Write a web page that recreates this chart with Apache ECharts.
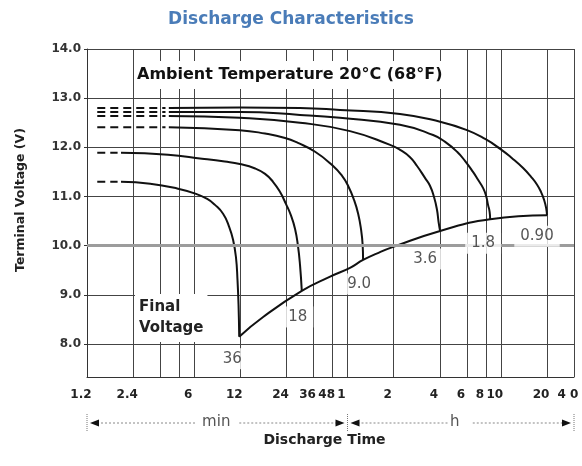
<!DOCTYPE html>
<html><head><meta charset="utf-8">
<script src="https://cdn.jsdelivr.net/npm/echarts@6/dist/echarts.min.js"></script>
<style>html,body{margin:0;padding:0;background:#fff}#c{width:582px;height:466px}</style>
</head><body><div id="c"></div>
<script>
// ---- axis ticks (discharge time in minutes, log scale) ----
const xGridMinutes = [1.2, 2.4, 3.6, 4.8, 6, 12, 24, 36, 48, 60, 120, 240, 360, 480, 600, 1200, 1800];
const xLabelMinutes = [1.2, 2.4, 6, 12, 24, 36, 48, 60, 120, 240, 360, 480, 600, 1200, 1800];
const xLabelText = ['1.2', '2.4', '6', '12', '24', '36', '48', '1', '2', '4', '6', '8', '10', '20', '4 0'];
const yTicks = [8, 9, 10, 11, 12, 13, 14];

// ---- discharge currents (A) ----
const currentNames = ['0.90', '1.8', '3.6', '9.0', '18', '36'];

// ---- dashed lead-in segments [minutes, volts] ----
const leadIn_0_90 = [[1.4, 12.80], [3.9, 12.80]];
const leadIn_1_8 = [[1.4, 12.72], [3.9, 12.72]];
const leadIn_3_6 = [[1.4, 12.64], [3.9, 12.64]];
const leadIn_9_0 = [[1.4, 12.41], [3.9, 12.41]];
const leadIn_18 = [[1.4, 11.89], [1.9, 11.89]];
const leadIn_36 = [[1.4, 11.30], [1.9, 11.30]];

// ---- discharge curves [minutes, volts] ----
const curve_0_90 = [[4.1, 12.80], [11.9, 12.81], [29.4, 12.80], [53.6, 12.76], [132, 12.68], [241, 12.52], [361, 12.35], [474, 12.17], [594, 11.97], [710, 11.78], [838, 11.58], [945, 11.40], [1034, 11.24], [1098, 11.09], [1149, 10.93], [1184, 10.77], [1200, 10.62]];
const curve_1_8 = [[4.1, 12.72], [11.9, 12.72], [29.4, 12.66], [53.6, 12.60], [132, 12.46], [217, 12.25], [260, 12.11], [311, 11.91], [351, 11.72], [395, 11.50], [426, 11.34], [460, 11.17], [481, 11.01], [495, 10.83], [507, 10.69], [511, 10.54]];
const curve_3_6 = [[4.1, 12.64], [11.9, 12.60], [29.4, 12.50], [62.3, 12.33], [113.7, 12.05], [132, 11.95], [153.5, 11.80], [170.5, 11.62], [192, 11.38], [207, 11.22], [220, 10.99], [230, 10.73], [235.6, 10.48], [241, 10.30]];
const curve_9_0 = [[4.1, 12.41], [11.9, 12.35], [17.4, 12.28], [23.5, 12.19], [28.5, 12.09], [36.9, 11.91], [47.6, 11.64], [55.3, 11.42], [60.5, 11.22], [66.2, 10.93], [70.4, 10.65], [73.6, 10.32], [75.3, 10.02], [75.8, 9.71]];
const curve_18 = [[2.0, 11.89], [4.05, 11.85], [6.75, 11.77], [9.5, 11.71], [11.9, 11.66], [15, 11.57], [17.4, 11.46], [19.6, 11.30], [21.8, 11.09], [23.8, 10.85], [25.7, 10.61], [27.3, 10.34], [28.5, 10.00], [29.4, 9.61], [30.2, 9.08]];
const curve_36 = [[2.0, 11.30], [3.1, 11.26], [4.7, 11.16], [6.1, 11.06], [7.3, 10.95], [8.2, 10.83], [9.26, 10.65], [10.1, 10.40], [10.76, 10.12], [11.25, 9.75], [11.5, 9.30], [11.68, 8.80], [11.8, 8.15]];

// ---- final voltage line [minutes, volts] ----
const finalVoltage = [[11.8, 8.15], [16.9, 8.55], [30.2, 9.08], [46.2, 9.37], [62.3, 9.55], [75.8, 9.71], [97.8, 9.87], [118, 9.97], [241, 10.30], [511, 10.54], [1200, 10.62]];

const leadIns = [leadIn_0_90, leadIn_1_8, leadIn_3_6, leadIn_9_0, leadIn_18, leadIn_36];
const curves = [curve_0_90, curve_1_8, curve_3_6, curve_9_0, curve_18, curve_36];
// label offsets in pixels (style only)
const labelOffsets = [[-10, 21], [-7, 24], [-15, 28], [-4, 24], [-4, 26], [-7, 22]];

const FONT = 'DejaVu Sans, sans-serif';
const INK = '#111';

function xLabel(v) {
  const i = xLabelMinutes.findIndex(m => Math.abs(m - v) / m < 1e-6);
  return i >= 0 ? xLabelText[i] : '';
}

const series = [];
// thick grey reference line at 10.0 V (drawn beneath the curves)
series.push({
  type: 'line', data: [], silent: true, z: 1,
  markLine: { silent: true, symbol: 'none', label: { show: false },
    lineStyle: { color: '#9c9c9c', width: 3, type: 'solid' }, data: [{ yAxis: 10 }] }
});
curves.forEach((c, i) => {
  series.push({
    name: currentNames[i] + ' lead', type: 'line', data: leadIns[i], showSymbol: false, z: 3,
    lineStyle: { color: INK, width: 2, type: [8, 5] }, silent: true
  });
  series.push({
    name: currentNames[i], type: 'line', data: c, showSymbol: false, z: 3,
    smooth: 0.5,
    lineStyle: { color: INK, width: 2 }, silent: true
  });
});
series.push({
  name: 'Final Voltage', type: 'line', data: finalVoltage, showSymbol: false, z: 3,
  smooth: 0.5, lineStyle: { color: INK, width: 2 }, silent: true
});
series.push({
  name: 'labels', type: 'scatter', symbolSize: 1, silent: true, z: 5,
  itemStyle: { color: 'rgba(0,0,0,0)' },
  data: curves.map((c, i) => ({
    value: c[c.length - 1],
    label: {
      show: true, formatter: currentNames[i], position: 'inside', offset: labelOffsets[i],
      color: '#2a2a2a', fontSize: 15, fontFamily: FONT, backgroundColor: '#fff', padding: [3, 6]
    }
  }))
});

const option = {
  animation: false,
  backgroundColor: '#fff',
  title: {
    text: 'Discharge Characteristics', left: 'center', top: 6,
    textStyle: { color: '#4a7cb8', fontSize: 17, fontWeight: 'bold', fontFamily: FONT }
  },
  grid: { left: 87, right: 8, top: 49, bottom: 89, containLabel: false },
  xAxis: {
    type: 'log', logBase: 10, min: 1.2, max: 1800,
    name: 'Discharge Time', nameLocation: 'middle', nameGap: 56,
    nameTextStyle: { color: '#222', fontSize: 14, fontWeight: 'bold', fontFamily: FONT, padding: [0, 12, 0, 0] },
    axisLine: { show: true, lineStyle: { color: '#333', width: 1 } },
    axisTick: { show: false, customValues: xGridMinutes },
    axisLabel: {
      customValues: xLabelMinutes, formatter: xLabel, margin: 12,
      color: '#222', fontSize: 12, fontWeight: 'bold', fontFamily: FONT, padding: [0, 12, 0, 0]
    },
    splitLine: { show: true, lineStyle: { color: '#444', width: 1 } },
    minorTick: { show: false }, minorSplitLine: { show: false }
  },
  yAxis: {
    type: 'value', min: 7.33, max: 14,
    name: 'Terminal Voltage (V)', nameLocation: 'middle', nameGap: 60, nameRotate: 90,
    nameTextStyle: { color: '#222', fontSize: 12.5, fontWeight: 'bold', fontFamily: FONT, padding: [0, 0, 0, 26] },
    axisLine: { show: true, lineStyle: { color: '#333', width: 1 } },
    axisTick: { show: true, length: 3, customValues: yTicks, lineStyle: { color: '#333' } },
    axisLabel: {
      customValues: yTicks, formatter: v => v.toFixed(1), margin: 6,
      color: '#333', fontSize: 12, fontWeight: 'bold', fontFamily: FONT
    },
    splitLine: { show: true, lineStyle: { color: '#444', width: 1 } }
  },
  series: series
};

const chart = echarts.init(document.getElementById('c'), null, { renderer: 'canvas' });
chart.setOption(option);

// ---- annotations ----
function px(v) { return chart.convertToPixel({ xAxisIndex: 0 }, v); }
const xa = px(xLabelMinutes[0]);
const xm = px(xLabelMinutes[7]);
const xb = px(xLabelMinutes[xLabelMinutes.length - 1]);
const ay = 423;
const dotted = { stroke: '#888', lineWidth: 1, lineDash: [2, 2] };
const g = [];
[xa, xm, xb].forEach(x => g.push({ type: 'line', z: 100, shape: { x1: x, y1: 414, x2: x, y2: 432 }, style: { stroke: '#777', lineWidth: 1, lineDash: [1, 1] } }));
function arrowPair(x1, x2, text) {
  const cx = (x1 + x2) / 2;
  const half = text === 'min' ? 22 : 12;
  g.push({ type: 'line', z: 100, shape: { x1: x1 + 6, y1: ay, x2: cx - half, y2: ay }, style: dotted });
  g.push({ type: 'line', z: 100, shape: { x1: cx + half, y1: ay, x2: x2 - 6, y2: ay }, style: dotted });
  g.push({ type: 'polygon', z: 100, shape: { points: [[x1 + 3, ay], [x1 + 12, ay - 3.5], [x1 + 12, ay + 3.5]] }, style: { fill: '#111' } });
  g.push({ type: 'polygon', z: 100, shape: { points: [[x2 - 3, ay], [x2 - 12, ay - 3.5], [x2 - 12, ay + 3.5]] }, style: { fill: '#111' } });
  g.push({ type: 'text', z: 100, x: cx - (text === 'min' ? 1 : 6), y: ay - 1, style: { text: text, fill: '#555', font: '15px ' + FONT, align: 'center', verticalAlign: 'middle' } });
}
arrowPair(xa, xm, 'min');
arrowPair(xm, xb, 'h');
g.push({ type: 'text', z: 100, x: 134, y: 75,
  style: { text: 'Ambient Temperature 20°C (68°F)', fill: '#111', font: 'bold 16px ' + FONT,
    align: 'left', verticalAlign: 'middle', backgroundColor: '#fff', padding: [6, 3] } });
g.push({ type: 'text', z: 100, x: 135, y: 318,
  style: { text: 'Final\nVoltage', fill: '#222', font: 'bold 15px ' + FONT, lineHeight: 21,
    align: 'left', verticalAlign: 'middle', backgroundColor: '#fff', padding: [3, 4] } });
chart.setOption({ graphic: { elements: g } });
</script>
</body></html>
